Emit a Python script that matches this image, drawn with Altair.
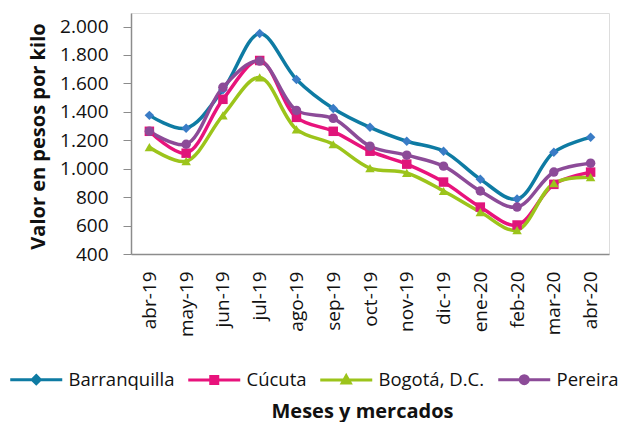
import altair as alt
import pandas as pd

months = ["abr-19", "may-19", "jun-19", "jul-19", "ago-19", "sep-19", "oct-19",
          "nov-19", "dic-19", "ene-20", "feb-20", "mar-20", "abr-20"]
series = ["Barranquilla", "Cúcuta", "Bogotá, D.C.", "Pereira"]
barranquilla = [1375, 1285, 1555, 1950, 1628, 1424, 1291, 1193, 1123, 926, 786, 1116, 1221]
cucuta = [1263, 1109, 1488, 1761, 1361, 1263, 1123, 1032, 906, 730, 604, 890, 976]
bogota = [1151, 1053, 1375, 1642, 1277, 1172, 1004, 970, 843, 695, 568, 898, 940]
pereira = [1263, 1172, 1572, 1757, 1410, 1354, 1158, 1095, 1018, 843, 730, 976, 1039]
y_ticks = [400, 600, 800, 1000, 1200, 1400, 1600, 1800, 2000]

line_colors = ["#0E7BA3", "#E8137C", "#9CC41B", "#8C4B98"]
marker_colors = ["#3A7CC6", "#E0157A", "#9CC41B", "#8C4B98"]
shapes = ["diamond", "square", "triangle-up", "circle"]
legend_shapes = [
    "M0,0H52M26,-4L30,0L26,4L22,0Z",
    "M0,0H52M22.5,-3.5H29.5V3.5H22.5Z",
    "M0,0H52M26,-4L30,3L22,3Z",
    "M0,0H52M22,0A4,4,0,1,1,30,0A4,4,0,1,1,22,0Z",
]

rows = []
for name, vals in zip(series, [barranquilla, cucuta, bogota, pereira]):
    for m, v in zip(months, vals):
        rows.append({"mes": m, "serie": name, "valor": v, "orden": series.index(name)})
df = pd.DataFrame(rows)

FONT = "Open Sans"

x_enc = alt.X("mes:N", sort=months,
              scale=alt.Scale(type="point", padding=0.5),
              axis=alt.Axis(title="Meses  y mercados", labelAngle=-90, labelFontSize=19,
                            labelFont=FONT, labelColor="#111", labelPadding=17, ticks=False,
                            domainColor="#8c8c8c", domainWidth=1.5,
                            titleFont=FONT, titleFontSize=20, titleFontWeight="bold",
                            titleColor="#111", titleX=231, titleY=157,
                            titleBaseline="middle", titleAlign="center"))
y_enc = alt.Y("valor:Q",
              scale=alt.Scale(domain=[400, 2095], nice=False, zero=False),
              axis=alt.Axis(title="Valor en pesos por kilo", values=y_ticks,
                            labelExpr="replace(format(datum.value, ','), ',', '.')",
                            labelFontSize=19, labelFont=FONT, labelColor="#111",
                            labelOverlap=False, labelSeparation=0,
                            labelPadding=15, tickSize=8, tickColor="#8c8c8c",
                            domainColor="#8c8c8c", domainWidth=1.5, grid=False,
                            titleFont=FONT, titleFontSize=20, titleFontWeight="bold",
                            titleColor="#111", titleX=-93, titleY=123,
                            titleBaseline="middle", titleAlign="center", titleAngle=270))

lines = alt.Chart(df).mark_line(strokeWidth=3.5, interpolate="catmull-rom").encode(
    x=x_enc,
    y=y_enc,
    stroke=alt.Stroke("serie:N", scale=alt.Scale(domain=series, range=line_colors), legend=None),
    order=alt.Order("orden:Q"),
    detail="serie:N",
)

points = alt.Chart(df).mark_point(filled=True, size=90, opacity=1).encode(
    x=x_enc,
    y=y_enc,
    fill=alt.Fill("serie:N", scale=alt.Scale(domain=series, range=marker_colors), legend=None),
    shape=alt.Shape("serie:N", scale=alt.Scale(domain=series, range=shapes), legend=None),
)

leg = alt.Legend(title=None, orient="none", direction="horizontal",
                 legendX=-130, legendY=357, columns=4,
                 symbolSize=4, symbolStrokeWidth=3, symbolOpacity=1,
                 labelOffset=49, columnPadding=4,
                 labelFont=FONT, labelFontSize=18.5, labelColor="#111", labelLimit=300)

legend_layer = alt.Chart(df).transform_filter("false").mark_point(
    filled=True, strokeWidth=3, opacity=1
).encode(
    x=x_enc,
    y=y_enc,
    shape=alt.Shape("serie:N", scale=alt.Scale(domain=series, range=legend_shapes), legend=leg),
    fill=alt.Fill("serie:N", scale=alt.Scale(domain=series, range=line_colors), legend=leg),
    stroke=alt.Stroke("serie:N", scale=alt.Scale(domain=series, range=line_colors), legend=leg),
)

chart = alt.layer(lines, points, legend_layer).resolve_scale(
    shape="independent", fill="independent", stroke="independent"
).properties(
    width=478, height=241,
    autosize=alt.AutoSizeParams(type="none"),
    padding={"left": 123, "top": 5, "right": 17, "bottom": 168},
).configure_view(stroke=None).configure_axis(labelOverlap=False).configure(background="white")

chart.save("out.html", embed_options={"renderer": "svg", "actions": False})
